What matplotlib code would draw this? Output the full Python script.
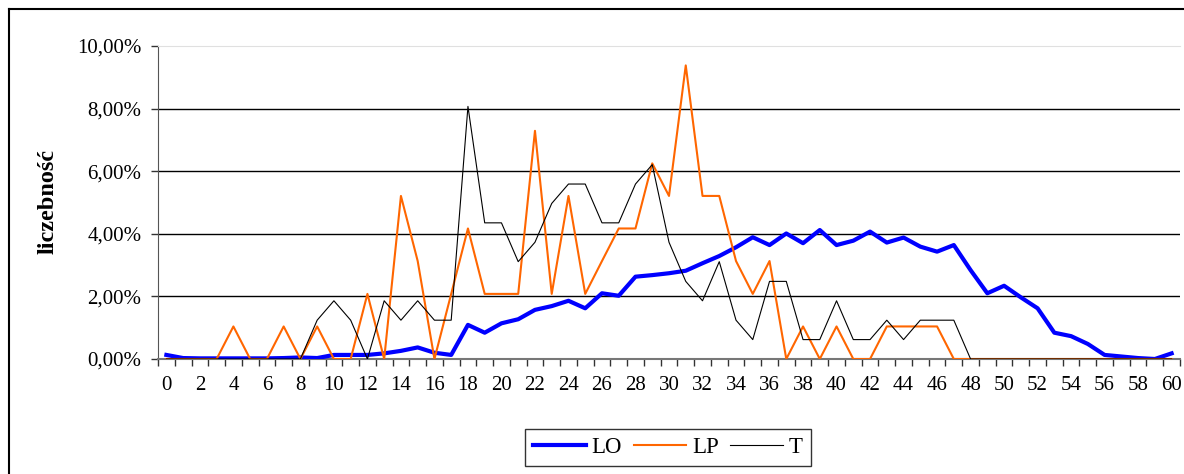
import numpy as np
import matplotlib
matplotlib.use('Agg')
import matplotlib.pyplot as plt
from matplotlib.ticker import FuncFormatter, FixedLocator
from matplotlib.lines import Line2D

# categories 0..60
categories = list(range(0, 61))

# LO series (percent)
lo_values = [0.13, 0.03, 0.02, 0.02, 0.02, 0.02, 0.02, 0.03, 0.05, 0.03,
             0.13, 0.13, 0.13, 0.18, 0.26, 0.37, 0.20, 0.13, 1.09, 0.84,
             1.14, 1.27, 1.57, 1.69, 1.86, 1.62, 2.10, 2.02, 2.63, 2.68,
             2.74, 2.82, 3.06, 3.29, 3.57, 3.89, 3.64, 4.01, 3.70, 4.12,
             3.64, 3.78, 4.07, 3.72, 3.88, 3.59, 3.43, 3.64, 2.84, 2.10,
             2.34, 1.97, 1.62, 0.84, 0.73, 0.48, 0.13, 0.08, 0.03, 0.00,
             0.18]

# LP series (percent)
lp_values = [0, 0, 0, 0, 1.04, 0, 0, 1.04, 0, 1.04,
             0, 0, 2.08, 0, 5.21, 3.13, 0, 2.08, 4.17, 2.08,
             2.08, 2.08, 7.29, 2.08, 5.21, 2.08, 3.13, 4.17, 4.17, 6.25,
             5.21, 9.38, 5.21, 5.21, 3.13, 2.08, 3.13, 0, 1.04, 0,
             1.04, 0, 0, 1.04, 1.04, 1.04, 1.04, 0, 0, 0,
             0, 0, 0, 0, 0, 0, 0, 0, 0, 0,
             0]

# T series (percent)
t_values = [0, 0, 0, 0, 0, 0, 0, 0, 0, 1.24,
            1.86, 1.24, 0, 1.86, 1.24, 1.86, 1.24, 1.24, 8.07, 4.35,
            4.35, 3.11, 3.73, 4.97, 5.59, 5.59, 4.35, 4.35, 5.59, 6.21,
            3.73, 2.48, 1.86, 3.11, 1.24, 0.62, 2.48, 2.48, 0.62, 0.62,
            1.86, 0.62, 0.62, 1.24, 0.62, 1.24, 1.24, 1.24, 0, 0,
            0, 0, 0, 0, 0, 0, 0, 0, 0, 0,
            0]

series_names = ['LO', 'LP', 'T']
y_ticks = [0, 2, 4, 6, 8, 10]

plt.rcParams['font.family'] = ['Liberation Serif', 'DejaVu Serif']

W, H = 1184, 474
fig = plt.figure(figsize=(W / 100, H / 100), dpi=100)
ax = fig.add_axes([158 / W, 1 - 359 / H, (1180 - 158) / W, (359 - 46) / H])

ax.plot(categories, lo_values, color='#0000ff', lw=3.0, label=series_names[0],
        zorder=3, solid_joinstyle='round')
ax.plot(categories, lp_values, color='#ff6600', lw=1.5, label=series_names[1],
        zorder=4)
ax.plot(categories, t_values, color='black', lw=0.8, label=series_names[2],
        zorder=5)

ax.set_xlim(-0.5, 60.5)
ax.set_ylim(0, 10)

# gridlines
for v in y_ticks[1:-1]:
    ax.axhline(v, color='black', lw=1.0, zorder=1)

ax.set_yticks(y_ticks)
ax.yaxis.set_major_formatter(FuncFormatter(
    lambda v, p: ('%.2f' % v).replace('.', ',') + '%'))
ax.tick_params(axis='y', length=5, width=1, color='#333333', direction='out',
               labelsize=15, pad=7)

ax.set_xticks(range(0, 61, 2))
ax.xaxis.set_minor_locator(FixedLocator(np.arange(-0.5, 61, 1)))
ax.tick_params(axis='x', which='major', length=0, labelsize=15, pad=12)
ax.tick_params(axis='x', which='minor', length=5, width=1, color='#333333',
               direction='out')

ax.spines['right'].set_visible(False)
ax.spines['top'].set_color('#e0e0e0')
ax.spines['left'].set_color('#555555')
ax.spines['bottom'].set_color('#777777')
ax.spines['bottom'].set_linewidth(1.5)

fig.text(48 / W, 1 - 202 / H, 'liczebność', rotation=90, ha='center',
         va='center', fontsize=17.5, fontweight='bold')

leg = fig.legend(loc='upper center', bbox_to_anchor=(668 / W, 1 - 429 / H),
                 ncol=3, fontsize=16.5, frameon=True, fancybox=False,
                 handlelength=2.3, handletextpad=0.25, columnspacing=0.5,
                 borderpad=0.35, borderaxespad=0)
leg.get_frame().set_edgecolor('black')
leg.get_frame().set_linewidth(1.0)

# outer chart border (left and top visible)
fig.add_artist(Line2D([9 / W, 9 / W], [0, 1 - 9 / H], color='black', lw=1.5,
                      transform=fig.transFigure))
fig.add_artist(Line2D([9 / W, 1], [1 - 9 / H, 1 - 9 / H], color='black',
                      lw=1.5, transform=fig.transFigure))

fig.savefig('out.png', dpi=100)
